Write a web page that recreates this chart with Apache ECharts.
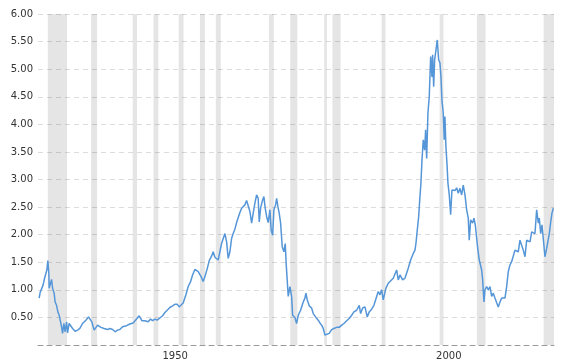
<!DOCTYPE html>
<html><head><meta charset="utf-8">
<script src="https://cdn.jsdelivr.net/npm/echarts@6/dist/echarts.min.js"></script>
<style>html,body{margin:0;padding:0;background:#fff}#c{width:566px;height:364px}</style>
</head><body><div id="c"></div>
<script>
const years = [1928.01,1928.19,1928.50,1928.74,1929.00,1929.23,1929.42,1929.60,1929.78,1929.84,1930.09,1930.28,1930.46,1930.75,1930.93,1931.19,1931.43,1931.67,1931.92,1932.16,1932.29,1932.52,1932.76,1933.02,1933.20,1933.49,1933.75,1934.12,1934.59,1935.03,1935.45,1935.94,1936.55,1937.04,1937.33,1937.64,1938.06,1938.37,1938.69,1938.98,1939.29,1939.60,1939.89,1940.20,1940.51,1940.93,1941.43,1941.90,1942.34,1942.76,1943.26,1943.60,1943.99,1944.59,1945.19,1945.81,1946.29,1946.55,1946.78,1947.33,1947.94,1948.37,1948.74,1949.16,1949.58,1950.07,1950.57,1950.99,1951.41,1951.90,1952.40,1952.87,1953.24,1953.60,1953.91,1954.33,1954.83,1955.25,1955.69,1956.05,1956.47,1956.78,1957.08,1957.39,1957.70,1957.99,1958.30,1958.72,1959.09,1959.52,1959.82,1960.13,1960.44,1960.73,1961.04,1961.35,1961.65,1961.96,1962.27,1962.56,1962.87,1963.18,1963.47,1963.78,1964.10,1964.39,1964.70,1965.01,1965.30,1965.61,1965.92,1966.22,1966.53,1966.84,1967.13,1967.44,1967.75,1968.04,1968.23,1968.48,1968.77,1969.08,1969.32,1969.58,1969.87,1970.18,1970.42,1970.68,1970.91,1971.22,1971.41,1971.64,1971.88,1972.14,1972.43,1972.74,1972.98,1973.17,1973.53,1973.84,1974.15,1974.33,1974.75,1975.06,1975.36,1975.79,1976.27,1976.58,1976.76,1977.00,1977.37,1977.80,1978.10,1978.59,1979.01,1979.32,1979.63,1979.93,1980.24,1980.55,1981.02,1981.46,1981.88,1982.37,1982.85,1983.29,1983.71,1984.20,1984.68,1985.12,1985.54,1986.03,1986.51,1986.76,1987.13,1987.55,1987.97,1988.33,1988.77,1989.19,1989.69,1989.98,1990.29,1990.60,1990.89,1991.39,1991.81,1992.12,1992.72,1993.34,1993.64,1993.95,1994.44,1994.86,1995.17,1995.46,1995.90,1996.38,1996.69,1996.87,1997.11,1997.37,1997.60,1997.78,1997.97,1998.21,1998.46,1998.64,1998.83,1999.06,1999.30,1999.56,1999.80,1999.92,2000.11,2000.29,2000.53,2000.77,2001.02,2001.26,2001.44,2001.62,2001.86,2002.04,2002.17,2002.35,2002.54,2002.72,2002.96,2003.21,2003.45,2003.69,2004.00,2004.31,2004.60,2004.91,2005.22,2005.52,2005.83,2006.14,2006.43,2006.61,2006.87,2007.23,2007.47,2007.71,2007.97,2008.20,2008.44,2008.70,2008.88,2009.06,2009.30,2009.48,2009.79,2010.09,2010.40,2010.71,2011.00,2011.31,2011.62,2011.91,2012.23,2012.54,2012.83,2013.14,2013.45,2013.74,2014.05,2014.36,2014.66,2014.97,2015.28,2015.57,2015.88,2016.19,2016.49,2016.80,2017.11,2017.40,2017.71,2018.02,2018.31,2018.62,2018.93,2019.23,2019.41,2019.67,2019.90,2020.14,2020.45,2020.76,2021.06,2021.24,2021.50,2021.73,2021.97];
const ratio = [0.85,0.95,0.97,1.09,1.21,1.24,1.36,1.53,1.30,1.03,1.12,1.19,1.03,0.94,0.78,0.72,0.60,0.54,0.42,0.30,0.21,0.39,0.24,0.42,0.22,0.39,0.36,0.30,0.25,0.27,0.30,0.39,0.45,0.51,0.48,0.42,0.27,0.30,0.36,0.34,0.32,0.34,0.30,0.32,0.28,0.30,0.28,0.24,0.27,0.28,0.33,0.33,0.35,0.38,0.40,0.47,0.53,0.51,0.44,0.44,0.42,0.47,0.44,0.47,0.45,0.49,0.53,0.59,0.63,0.68,0.71,0.74,0.74,0.69,0.67,0.76,0.91,1.06,1.15,1.27,1.37,1.39,1.33,1.36,1.22,1.15,1.24,1.38,1.53,1.61,1.69,1.59,1.61,1.54,1.69,1.84,1.93,2.02,1.87,1.57,1.69,1.93,2.02,2.10,2.22,2.31,2.40,2.48,2.51,2.54,2.62,2.60,2.42,2.21,2.39,2.57,2.72,2.66,2.23,2.48,2.60,2.69,2.48,2.33,2.22,2.45,2.08,1.99,2.45,2.54,2.66,2.51,2.39,2.21,1.78,1.69,1.84,1.45,0.88,1.06,0.88,0.54,0.50,0.39,0.54,0.63,0.78,0.85,0.94,0.82,0.71,0.67,0.57,0.50,0.45,0.40,0.36,0.30,0.18,0.20,0.21,0.28,0.30,0.32,0.32,0.36,0.39,0.44,0.48,0.54,0.60,0.63,0.72,0.57,0.67,0.69,0.51,0.60,0.65,0.72,0.88,0.97,0.91,1.00,0.82,1.03,1.12,1.13,1.21,1.36,1.18,1.27,1.18,1.21,1.24,1.39,1.54,1.66,1.72,1.84,2.08,2.33,2.69,2.93,3.35,3.72,3.53,3.90,3.38,4.20,4.50,5.23,4.86,5.26,4.68,5.17,5.20,5.53,5.17,5.11,4.86,4.44,4.20,3.72,4.14,3.59,3.29,2.93,2.72,2.36,2.81,2.81,2.80,2.85,2.75,2.84,2.72,2.90,2.72,2.45,2.30,1.90,2.27,2.21,2.30,2.18,1.93,1.72,1.54,1.57,1.36,1.18,0.78,1.00,1.06,1.00,1.06,0.88,0.94,0.85,0.88,0.69,0.78,0.85,0.85,0.85,1.06,1.33,1.45,1.51,1.54,1.72,1.75,1.69,1.90,1.81,1.72,1.60,1.90,1.93,1.87,2.05,2.08,2.02,2.45,2.21,2.30,2.02,2.18,1.93,1.60,1.75,1.78,2.02,2.23,2.39,2.48];
const recessionStart = [1929.6,1937.5,1945.1,1948.9,1953.5,1957.4,1960.3,1970.0,1973.9,1980.1,1981.6,1990.6,2001.2,2008.0,2020.2];
const recessionEnd   = [1933.1,1938.6,1945.9,1949.8,1954.4,1958.3,1961.2,1970.9,1975.2,1980.6,1983.1,1991.3,2001.9,2009.6,2022.1];
const xTickLabels = [1950, 2000];
const xRange = [1927.8, 2022.1];
const yRange = [0, 6];
const yStep = 0.5;

const chart = echarts.init(document.getElementById('c'), null, {renderer: 'canvas'});
const font = {fontFamily: 'DejaVu Sans', fontSize: 10, color: '#333'};
chart.setOption({
  animation: false,
  grid: {left: 38, right: 12, top: 14, bottom: 19, containLabel: false},
  xAxis: {
    type: 'value', min: xRange[0], max: xRange[1],
    splitLine: {show: false},
    axisTick: {show: false},
    axisLine: {show: true, lineStyle: {color: '#999', type: [5, 4], width: 1}},
    axisLabel: Object.assign({
      customValues: xTickLabels,
      formatter: v => String(Math.round(v)),
      align: 'left', padding: [0, 0, 0, 3], margin: 6
    }, font)
  },
  yAxis: {
    type: 'value', min: yRange[0], max: yRange[1], interval: yStep,
    axisLine: {show: false}, axisTick: {show: false},
    splitLine: {lineStyle: {color: '#dcdcdc', type: [5, 4], width: 1}},
    axisLabel: Object.assign({
      formatter: v => v === 0 ? '' : v.toFixed(2),
      margin: 5
    }, font)
  },
  series: [{
    type: 'line',
    data: years.map((y, i) => [y, ratio[i]]),
    showSymbol: false,
    lineStyle: {color: '#5596d8', width: 1.5},
    markArea: {
      silent: true,
      itemStyle: {color: 'rgba(0,0,0,0.1)'},
      data: recessionStart.map((s, i) => [{xAxis: s}, {xAxis: recessionEnd[i]}])
    }
  }]
});
</script>
</body></html>
